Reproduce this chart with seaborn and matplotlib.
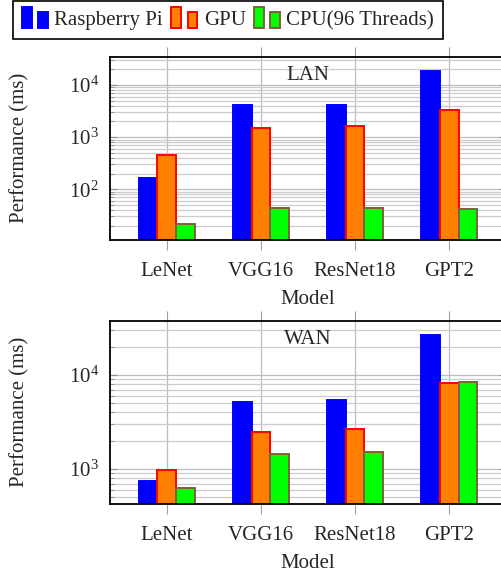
import numpy as np
import pandas as pd
import seaborn as sns
import matplotlib.pyplot as plt
from matplotlib.patches import Rectangle
from matplotlib.legend_handler import HandlerBase


models = ['LeNet', 'VGG16', 'ResNet18', 'GPT2']
devices = ['Raspberry Pi', 'GPU', 'CPU(96 Threads)']

lan_pi = [163, 4050, 4180, 18300]
lan_gpu = [451, 1510, 1670, 3250]
lan_cpu = [21.2, 43.7, 44.3, 41.8]

wan_pi = [740, 5130, 5380, 26400]
wan_gpu = [969, 2490, 2670, 8280]
wan_cpu = [624, 1433, 1529, 8490]

fills = ['#0000ff', '#ff8000', '#00ff00']
edges = ['#0000ff', '#ff0000', '#7f5f3f']


def long_form(pi, gpu, cpu):
    rows = []
    for dev, vals in zip(devices, [pi, gpu, cpu]):
        for m, v in zip(models, vals):
            rows.append({'Model': m, 'Device': dev, 'Time': v})
    return pd.DataFrame(rows)


lan = long_form(lan_pi, lan_gpu, lan_cpu)
wan = long_form(wan_pi, wan_gpu, wan_cpu)

sns.set_style('white')
plt.rcParams['font.family'] = ['Liberation Serif', 'DejaVu Serif']
plt.rcParams['mathtext.fontset'] = 'stix'
plt.rcParams['font.size'] = 15

fig = plt.figure(figsize=(5.01, 5.74), dpi=100)
W, H = 501, 574
ax_lan = fig.add_axes([110 / W, 1 - 240 / H, 396 / W, 183.3 / H])
ax_wan = fig.add_axes([110 / W, 1 - 504 / H, 396 / W, 183.3 / H])


def draw(ax, df, ylim, title):
    ax.set_yscale('log')
    sns.barplot(data=df, x='Model', y='Time', hue='Device', palette=fills,
                width=0.6, saturation=1, legend=False, ax=ax, errorbar=None)
    for cont, ec in zip(ax.containers, edges):
        for p in cont:
            p.set_edgecolor(ec)
            p.set_linewidth(1.4)
    ax.set_xlim(-0.603, 3.603)
    ax.set_ylim(*ylim)
    ax.set_axisbelow(True)
    ax.grid(True, which='major', axis='both', color='#bdbdbd', lw=0.9)
    ax.grid(True, which='minor', axis='y', color='#cccccc', lw=0.9)
    ax.tick_params(axis='x', which='major', direction='out', length=7,
                   color='#a0a0a0', top=True, bottom=True, pad=8.5, labelsize=15)
    ax.tick_params(axis='y', which='major', direction='in', length=5,
                   color='#909090', left=True, right=True, pad=8, labelsize=15)
    ax.tick_params(axis='y', which='minor', direction='in', length=3,
                   color='#909090', left=True, right=True)
    for s in ax.spines.values():
        s.set_color('black')
        s.set_linewidth(1.3)
    ax.set_xlabel('Model', fontsize=15, labelpad=7)
    ax.set_ylabel('Performance (ms)', fontsize=15, labelpad=28)
    ax.text(0.5, 0.90, title, transform=ax.transAxes, ha='center',
            va='center', fontsize=15)


draw(ax_lan, lan, (10.6, 35000), 'LAN')
draw(ax_wan, wan, (425, 37900), 'WAN')


class BarKey:
    def __init__(self, fc, ec):
        self.fc = fc
        self.ec = ec


class TwoBars(HandlerBase):
    def create_artists(self, legend, orig_handle, xdescent, ydescent,
                       width, height, fontsize, trans):
        w = width * 0.38
        r1 = Rectangle((-xdescent, -ydescent - 2), w, height * 1.45,
                       fc=orig_handle.fc, ec=orig_handle.ec, lw=1.4,
                       transform=trans)
        r2 = Rectangle((-xdescent + width * 0.62, -ydescent - 2), w,
                       height * 1.1, fc=orig_handle.fc, ec=orig_handle.ec,
                       lw=1.4, transform=trans)
        return [r1, r2]


keys = [BarKey(f, e) for f, e in zip(fills, edges)]
leg = fig.legend(keys, devices, handler_map={BarKey: TwoBars()},
                 loc='upper left', bbox_to_anchor=(11.7 / W, 1.0),
                 borderaxespad=0.05,
                 ncol=3, fontsize=15, handlelength=1.25, handletextpad=0.3,
                 columnspacing=0.4, borderpad=0.45, fancybox=False,
                 framealpha=1, edgecolor='black')
leg.get_frame().set_linewidth(1.2)

fig.savefig('out.png', dpi=100)
